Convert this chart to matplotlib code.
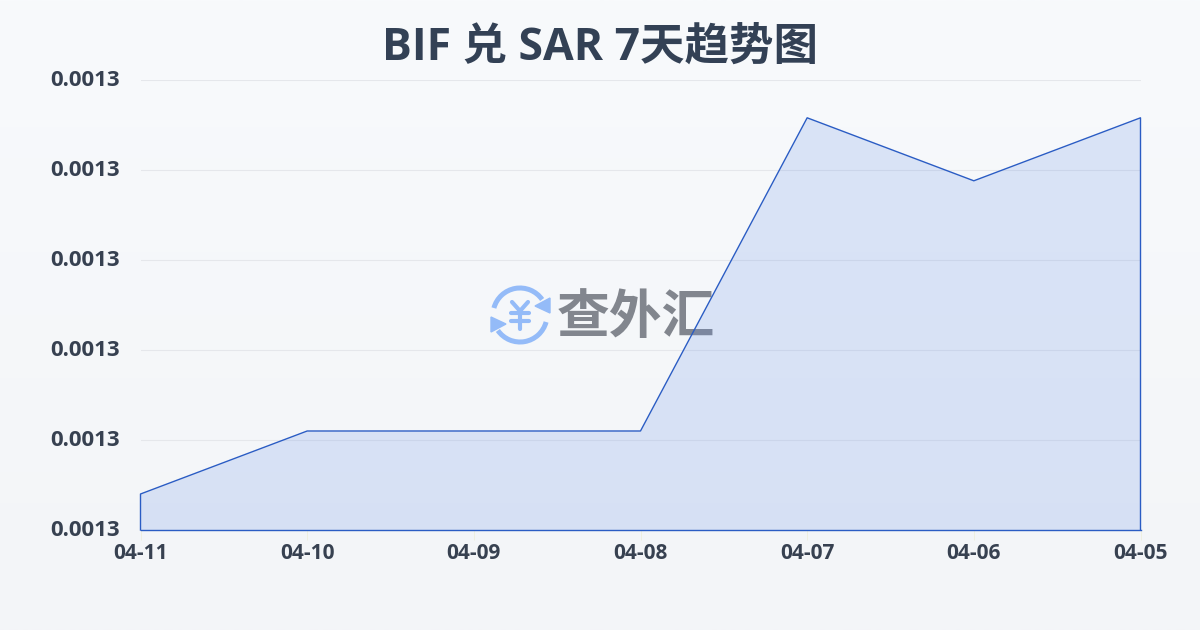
import numpy as np
import matplotlib
matplotlib.use('Agg')
import matplotlib.pyplot as plt
from matplotlib.patches import Arc, Polygon
from matplotlib.ticker import FormatStrFormatter
from matplotlib.transforms import ScaledTranslation

dates = ['04-11', '04-10', '04-09', '04-08', '04-07', '04-06', '04-05']
rates = [0.0012790, 0.0012860, 0.0012860, 0.0012860, 0.0013208, 0.0013138, 0.0013208]
yticks = [0.001275, 0.001285, 0.001295, 0.001305, 0.001315, 0.001325]
title = 'BIF 兑 SAR 7天趋势图'
logo_text = '查外汇'

fonts = ['Open Sans', 'Noto Sans CJK SC', 'DejaVu Sans']
plt.rcParams['font.family'] = fonts
plt.rcParams['font.weight'] = 'bold'
W, H = 1200, 630
fig = plt.figure(figsize=(12, 6.3), dpi=100)

# фон і логотип, координати в пікселях
bg = fig.add_axes([0, 0, 1, 1], zorder=0)
bg.axis('off')
grad = np.linspace(0, 1, 256).reshape(-1, 1, 1)
top = np.array([0xf8, 0xfa, 0xfc]) / 255
bottom = np.array([0xf3, 0xf5, 0xf8]) / 255
bg.imshow(top + (bottom - top) * grad, extent=[0, W, H, 0], aspect='auto')

blue = '#94bbf8'
bg.add_patch(Arc((520, 315), 54, 54, theta1=195, theta2=325, color=blue, lw=3.6))
bg.add_patch(Arc((520, 315), 54, 54, theta1=15, theta2=145, color=blue, lw=3.6))
bg.add_patch(Polygon([[550, 298], [550, 313], [535, 306]], color=blue))
bg.add_patch(Polygon([[491, 317], [491, 332], [506, 324]], color=blue))
# значок юаня лініями
for xs, ys in [([512, 520, 528], [302, 311, 302]), ([511, 529], [313, 313]),
               ([511, 529], [321, 321]), ([520, 520], [311, 329])]:
    bg.plot(xs, ys, color=blue, lw=3, solid_capstyle='round', solid_joinstyle='round')
bg.set_xlim(0, W)
bg.set_ylim(H, 0)
bg.text(636, 319, logo_text, fontsize=38, fontweight='bold', color='#82868e', ha='center', va='center')

ax = fig.add_axes([140.5 / W, 1 - 530 / H, 1000 / W, 450 / H], zorder=1)
ax.patch.set_alpha(0)
x = np.arange(len(dates))
ax.set_xlim(0, 6)
ax.set_ylim(yticks[0], yticks[-1])
ax.fill_between(x, rates, yticks[0], color='#658fe6', alpha=0.2, lw=0)
ax.plot(np.r_[x[0], x, x[-1]], np.r_[yticks[0], rates, yticks[0]], color='#2a5cc4', lw=1.0, clip_on=False)
ax.plot([x[0], x[-1]], [yticks[0], yticks[0]], color='#2a5cc4', lw=1.0, clip_on=False)

ax.set_yticks(yticks)
ax.yaxis.set_major_formatter(FormatStrFormatter('%.4f'))
ax.set_xticks(x, dates)
ax.grid(axis='y', color='#e5e7eb', lw=0.8)
ax.set_axisbelow(True)
for s in ax.spines.values():
    s.set_visible(False)
ax.tick_params(axis='y', length=0, pad=14.5, labelsize=16, labelcolor='#374151')
ax.tick_params(axis='x', length=7, width=0.6, color='#eeeedd', pad=2.5, labelsize=15, labelcolor='#374151')
# підписи осі y трохи вище за лінії сітки
up = ScaledTranslation(0, 2 / 100, fig.dpi_scale_trans)
for t in ax.get_yticklabels():
    t.set_transform(t.get_transform() + up)

fig.text(600 / W, 1 - 48 / H, title, fontsize=32, fontweight='bold', color='#334155', ha='center', va='center')
fig.savefig('out.png', dpi=100)
